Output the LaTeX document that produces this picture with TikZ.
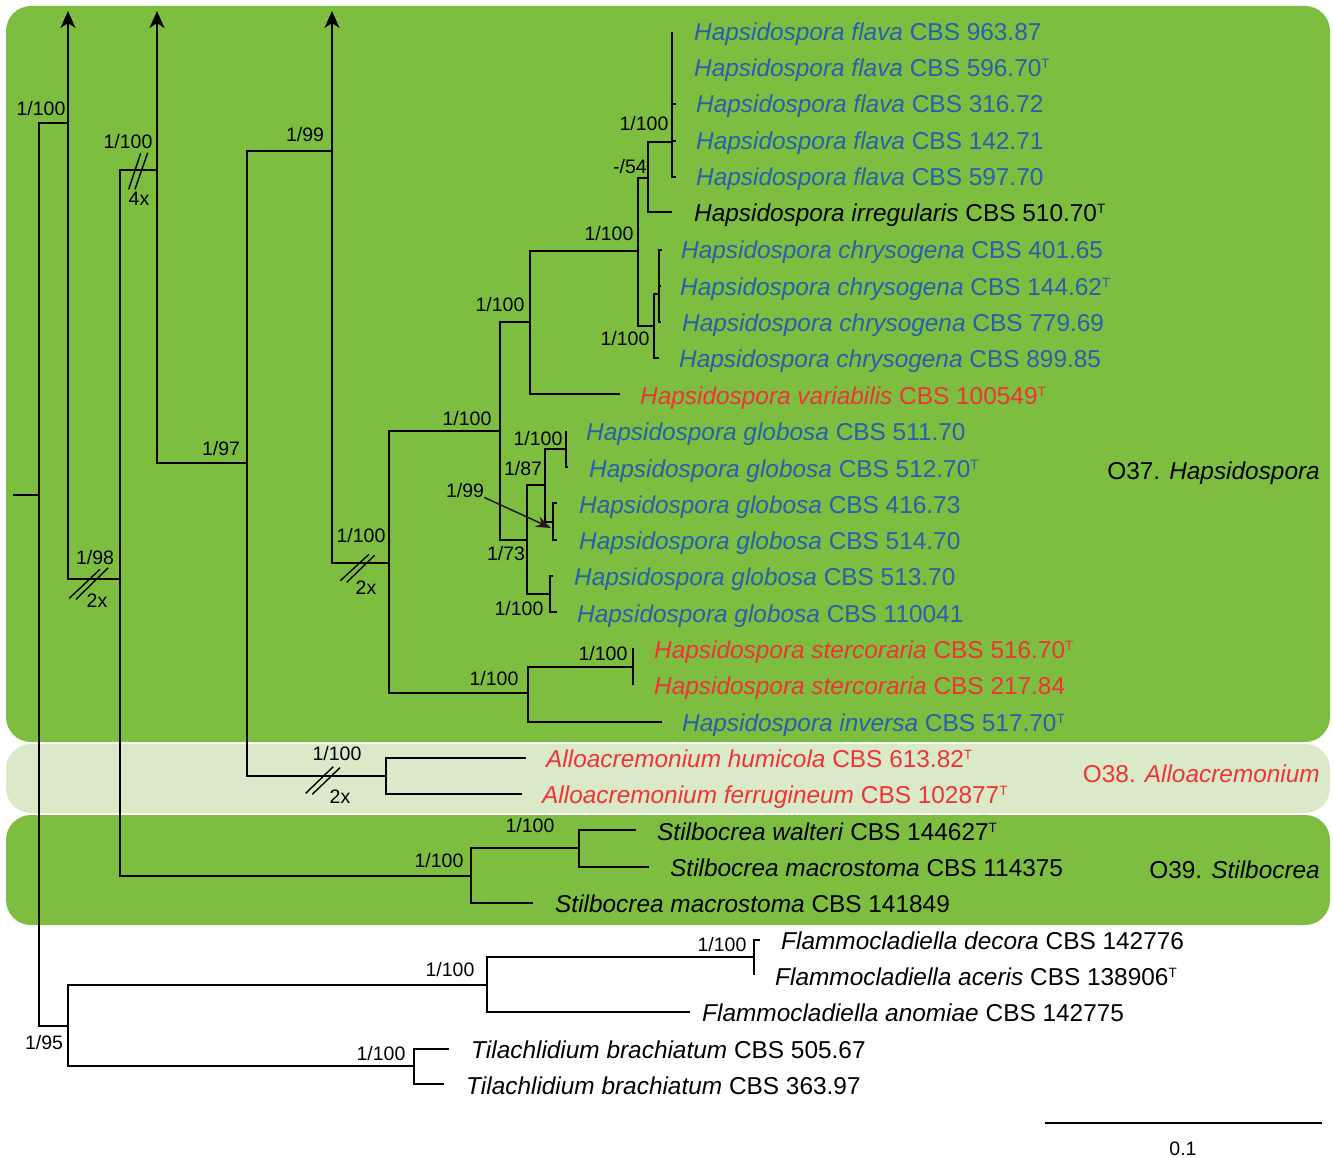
\documentclass[tikz,border=0pt]{standalone}
\usepackage{fontspec}
\setmainfont{Liberation Sans}
\usetikzlibrary{arrows.meta}
\definecolor{grn}{RGB}{125,190,65}
\definecolor{lgrn}{RGB}{218,233,199}
\definecolor{blu}{RGB}{43,94,171}
\definecolor{rd}{RGB}{239,52,56}
\definecolor{dk}{RGB}{35,24,21}
\newcommand\typ{\raisebox{8pt}{\fontsize{13.5}{14}\selectfont T}}
\begin{document}
\begin{tikzpicture}[x=1pt,y=-1pt,
  br/.style={line width=1.7pt},
  upar/.style={br,-{Stealth[length=17pt,width=15pt,inset=5pt]}},
  brk/.style={line width=1.4pt},
  tipt/.style={anchor=base west,inner sep=0pt,font=\fontsize{24.4}{28}\selectfont},
  supp/.style={anchor=base,inner sep=0pt,font=\fontsize{19.5}{22}\selectfont},
  cl/.style={anchor=base east,inner sep=0pt,font=\fontsize{24.4}{28}\selectfont}]
\fill[white] (0,0) rectangle (1333,1158);
\useasboundingbox (0,0) rectangle (1333,1158);
\fill[grn,rounded corners=25pt] (6,6) rectangle (1330,742);
\fill[lgrn,rounded corners=25pt] (6,744) rectangle (1330,813);
\fill[grn,rounded corners=25pt] (6,815) rectangle (1330,925);
% internal nodes
\coordinate (rs) at (13,495);
\coordinate (r) at (39,495);
\coordinate (a1) at (68,123);
\coordinate (u1) at (68,11);
\coordinate (a2) at (120,579);
\coordinate (a3) at (157,170);
\coordinate (u2) at (157,11);
\coordinate (a4) at (247,463);
\coordinate (a5) at (332,151);
\coordinate (u3) at (332,11);
\coordinate (hap) at (389,563);
\coordinate (B) at (500,431);
\coordinate (C) at (530,322);
\coordinate (D) at (638,251);
\coordinate (E) at (648,178);
\coordinate (F) at (672,142);
\coordinate (G) at (654,326);
\coordinate (H) at (659,294);
\coordinate (glob) at (527,540);
\coordinate (g1) at (545,485);
\coordinate (g11) at (566,449);
\coordinate (g12) at (553,522);
\coordinate (g2) at (550,594);
\coordinate (st) at (528,693);
\coordinate (s1) at (633,667);
\coordinate (allo) at (386,776);
\coordinate (stil) at (471,876);
\coordinate (S1) at (579,848);
\coordinate (out) at (68,1026);
\coordinate (fl) at (487,985);
\coordinate (fl1) at (754,957);
\coordinate (ti) at (414,1066);
% tips
\coordinate (t1) at (672,32);
\coordinate (t2) at (672,68);
\coordinate (t3) at (676,104);
\coordinate (t4) at (676,141);
\coordinate (t5) at (676,177);
\coordinate (t6) at (672,212);
\coordinate (t7) at (662,250);
\coordinate (t8) at (661,286);
\coordinate (t9) at (661,322);
\coordinate (t10) at (659,358);
\coordinate (t11) at (620,394);
\coordinate (t12) at (566,431);
\coordinate (t13) at (568,467);
\coordinate (t14) at (557,503);
\coordinate (t15) at (557,540);
\coordinate (t16) at (553,576);
\coordinate (t17) at (557,612);
\coordinate (t18) at (633,648);
\coordinate (t19) at (633,685);
\coordinate (t20) at (662,722);
\coordinate (t21) at (526,758);
\coordinate (t22) at (522,794);
\coordinate (t23) at (636,830);
\coordinate (t24) at (649,867);
\coordinate (t25) at (533,903);
\coordinate (t26) at (760,940);
\coordinate (t27) at (754,975);
\coordinate (t28) at (690,1012);
\coordinate (t29) at (449,1049);
\coordinate (t30) at (444,1084);
% branches
\draw[br] (rs) -- (r);
\draw[br] (r) |- (a1);
\draw[br] (r) |- (out);
\draw[upar] (a1) -- (u1);
\draw[br] (a1) |- (a2);
\draw[br] (a2) |- (a3);
\draw[br] (a2) |- (stil);
\draw[upar] (a3) -- (u2);
\draw[br] (a3) |- (a4);
\draw[br] (a4) |- (a5);
\draw[br] (a4) |- (allo);
\draw[upar] (a5) -- (u3);
\draw[br] (a5) |- (hap);
\draw[br] (hap) |- (B);
\draw[br] (hap) |- (st);
\draw[br] (B) |- (C);
\draw[br] (B) |- (glob);
\draw[br] (C) |- (D);
\draw[br] (C) |- (t11);
\draw[br] (D) |- (E);
\draw[br] (D) |- (G);
\draw[br] (E) |- (F);
\draw[br] (E) |- (t6);
\foreach \t in {t1,t2,t3,t4,t5} \draw[br] (F) |- (\t);
\draw[br] (G) |- (H);
\draw[br] (G) |- (t10);
\foreach \t in {t7,t8,t9} \draw[br] (H) |- (\t);
\draw[br] (glob) |- (g1);
\draw[br] (glob) |- (g2);
\draw[br] (g1) |- (g11);
\draw[br] (g1) |- (g12);
\draw[br] (g11) |- (t12);
\draw[br] (g11) |- (t13);
\draw[br] (g12) |- (t14);
\draw[br] (g12) |- (t15);
\draw[br] (g2) |- (t16);
\draw[br] (g2) |- (t17);
\draw[br] (st) |- (s1);
\draw[br] (st) |- (t20);
\draw[br] (s1) |- (t18);
\draw[br] (s1) |- (t19);
\draw[br] (allo) |- (t21);
\draw[br] (allo) |- (t22);
\draw[br] (stil) |- (S1);
\draw[br] (stil) |- (t25);
\draw[br] (S1) |- (t23);
\draw[br] (S1) |- (t24);
\draw[br] (out) |- (fl);
\draw[br] (out) |- (ti);
\draw[br] (fl) |- (fl1);
\draw[br] (fl) |- (t28);
\draw[br] (fl1) |- (t26);
\draw[br] (fl1) |- (t27);
\draw[br] (ti) |- (t29);
\draw[br] (ti) |- (t30);
% break marks
\draw[brk] (69.3,598.3) -- (100,569.3);
\draw[brk] (76,599.3) -- (108.3,567.7);
\draw[brk] (128.7,189.3) -- (140.7,153.3);
\draw[brk] (135,189.3) -- (147.7,152.7);
\draw[brk] (340.3,580.7) -- (369,554.3);
\draw[brk] (346.7,582.3) -- (374.7,555.3);
\draw[brk] (305.7,793.3) -- (333.3,766.7);
\draw[brk] (312.3,794.3) -- (340,767.7);
% support values
\node[supp] (s01) at (41,116) {1/100};
\node[supp] (s02) at (128,149) {1/100};
\node[supp] (s03) at (139,206) {4x};
\node[supp] (s04) at (305,142) {1/99};
\node[supp] (s05) at (95,564) {1/98};
\node[supp] (s06) at (97,607) {2x};
\node[supp] (s07) at (221,455) {1/97};
\node[supp] (s08) at (361,542) {1/100};
\node[supp] (s09) at (366,594) {2x};
\node[supp] (s10) at (337,760) {1/100};
\node[supp] (s11) at (340,803) {2x};
\node[supp] (s12) at (467,425) {1/100};
\node[supp] (s13) at (500,312) {1/100};
\node[supp] (s14) at (609,241) {1/100};
\node[supp] (s15) at (630,174) {-/54};
\node[supp] (s16) at (644,131) {1/100};
\node[supp] (s17) at (625,345) {1/100};
\node[supp] (s18) at (538,445) {1/100};
\node[supp] (s19) at (523,475) {1/87};
\node[supp] (s20) at (465,497) {1/99};
\node[supp] (s21) at (506,560) {1/73};
\node[supp] (s22) at (519,615) {1/100};
\node[supp] (s23) at (603,660) {1/100};
\node[supp] (s24) at (494,685) {1/100};
\node[supp] (s25) at (530,832) {1/100};
\node[supp] (s26) at (439,867) {1/100};
\node[supp] (s27) at (722,951) {1/100};
\node[supp] (s28) at (450,976) {1/100};
\node[supp] (s29) at (381,1060) {1/100};
\node[supp] (s30) at (44,1049) {1/95};
\coordinate (p99) at (551,528);
\draw[line width=1.5pt,dk,-{Stealth[length=15pt,width=11pt]}] (s20.south east) -- (p99);
% tip labels
\node[tipt,text=blu] (L1) at (694,41) {\textit{Hapsidospora flava} CBS 963.87};
\node[tipt,text=blu] (L2) at (694,77) {\textit{Hapsidospora flava} CBS 596.70\typ};
\node[tipt,text=blu] (L3) at (696,113) {\textit{Hapsidospora flava} CBS 316.72};
\node[tipt,text=blu] (L4) at (696,150) {\textit{Hapsidospora flava} CBS 142.71};
\node[tipt,text=blu] (L5) at (696,186) {\textit{Hapsidospora flava} CBS 597.70};
\node[tipt] (L6) at (694,222) {\textit{Hapsidospora irregularis} CBS 510.70\typ};
\node[tipt,text=blu] (L7) at (681,259) {\textit{Hapsidospora chrysogena} CBS 401.65};
\node[tipt,text=blu] (L8) at (680,295) {\textit{Hapsidospora chrysogena} CBS 144.62\typ};
\node[tipt,text=blu] (L9) at (682,331) {\textit{Hapsidospora chrysogena} CBS 779.69};
\node[tipt,text=blu] (L10) at (679,367) {\textit{Hapsidospora chrysogena} CBS 899.85};
\node[tipt,text=rd] (L11) at (640,404) {\textit{Hapsidospora variabilis} CBS 100549\typ};
\node[tipt,text=blu] (L12) at (586,440) {\textit{Hapsidospora globosa} CBS 511.70};
\node[tipt,text=blu] (L13) at (589,477) {\textit{Hapsidospora globosa} CBS 512.70\typ};
\node[tipt,text=blu] (L14) at (579,513) {\textit{Hapsidospora globosa} CBS 416.73};
\node[tipt,text=blu] (L15) at (579,549) {\textit{Hapsidospora globosa} CBS 514.70};
\node[tipt,text=blu] (L16) at (574,585) {\textit{Hapsidospora globosa} CBS 513.70};
\node[tipt,text=blu] (L17) at (577,622) {\textit{Hapsidospora globosa} CBS 110041};
\node[tipt,text=rd] (L18) at (654,658) {\textit{Hapsidospora stercoraria} CBS 516.70\typ};
\node[tipt,text=rd] (L19) at (654,694) {\textit{Hapsidospora stercoraria} CBS 217.84};
\node[tipt,text=blu] (L20) at (682,731) {\textit{Hapsidospora inversa} CBS 517.70\typ};
\node[tipt,text=rd] (L21) at (546,767) {\textit{Alloacremonium humicola} CBS 613.82\typ};
\node[tipt,text=rd] (L22) at (542,803) {\textit{Alloacremonium ferrugineum} CBS 102877\typ};
\node[tipt] (L23) at (657,840) {\textit{Stilbocrea walteri} CBS 144627\typ};
\node[tipt] (L24) at (670,876) {\textit{Stilbocrea macrostoma} CBS 114375};
\node[tipt] (L25) at (555,912) {\textit{Stilbocrea macrostoma} CBS 141849};
\node[tipt] (L26) at (781,949) {\textit{Flammocladiella decora} CBS 142776};
\node[tipt] (L27) at (775,985) {\textit{Flammocladiella aceris} CBS 138906\typ};
\node[tipt] (L28) at (702,1021) {\textit{Flammocladiella anomiae} CBS 142775};
\node[tipt] (L29) at (471,1058) {\textit{Tilachlidium brachiatum} CBS 505.67};
\node[tipt] (L30) at (466,1094) {\textit{Tilachlidium brachiatum} CBS 363.97};
% clade labels
\node[cl] (c37) at (1320,479) {O37. \textit{Hapsidospora}};
\node[cl,text=rd] (c38) at (1320,782) {O38. \textit{Alloacremonium}};
\node[cl] (c39) at (1320,878) {O39. \textit{Stilbocrea}};
% scale bar
\coordinate (sb1) at (1045,1123);
\coordinate (sb2) at (1322,1123);
\draw[line width=1.7pt] (sb1) -- (sb2);
\node[supp] (sbl) at (1183,1155) {0.1};
\end{tikzpicture}
\end{document}
